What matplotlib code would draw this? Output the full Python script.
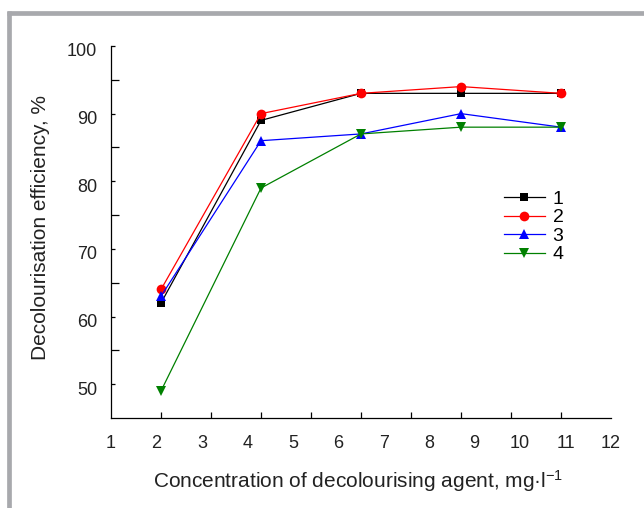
import numpy as np
import matplotlib
matplotlib.use("Agg")
import matplotlib.pyplot as plt
from matplotlib.lines import Line2D
from matplotlib.transforms import ScaledTranslation

plt.rcParams['font.family'] = ['Liberation Sans', 'DejaVu Sans']
plt.rcParams['mathtext.fontset'] = 'custom'
plt.rcParams['mathtext.rm'] = 'Liberation Sans'
plt.rcParams['mathtext.it'] = 'Liberation Sans:italic'

# data
conc = [2.1, 4.3, 6.5, 8.7, 10.9]
eff_1 = [62, 89, 93, 93, 93]
eff_2 = [64, 90, 93, 94, 93]
eff_3 = [63, 86, 87, 90, 88]
eff_4 = [49, 79, 87, 88, 88]
series_names = ['1', '2', '3', '4']
x_labels = [str(i) for i in range(1, 13)]
y_ticks = [50, 60, 70, 80, 90, 100]

txt = '#222222'
fig = plt.figure(figsize=(6.44, 5.08), dpi=100)
ax = fig.add_axes([111/644, 1-418/508, 500/644, 372/508])

styles = [('black', 's', 5.5), ('red', 'o', 7), ('blue', '^', 7.5), ('green', 'v', 7.5)]
for ys, name, (c, m, ms) in zip([eff_1, eff_2, eff_3, eff_4], series_names, styles):
    ax.plot(conc, ys, color=c, lw=0.9, marker=m, markersize=ms, label=name,
            markeredgewidth=0)

ax.set_xlim(1, 12)
ax.set_ylim(45, 100)

# x: labels evenly at 1..12, tick marks at 11 even positions (as in original)
ax.set_xticks(range(1, 13))
ax.set_xticklabels(x_labels)
ax.set_xticks(np.linspace(1, 12, 11), minor=True)
ax.tick_params(axis='x', which='major', length=0, pad=12, labelsize=13, labelcolor=txt)
ax.tick_params(axis='x', which='minor', direction='in', length=4, width=0.9)

ax.set_yticks(y_ticks)
ax.set_yticks([55, 65, 75, 85, 95], minor=True)
ax.tick_params(axis='y', which='major', direction='in', length=3, width=0.9,
               pad=10, labelsize=13, labelcolor=txt)
ax.tick_params(axis='y', which='minor', direction='in', length=5.5, width=0.9)
off = ScaledTranslation(0, -4/100, fig.dpi_scale_trans)
for lab in ax.get_yticklabels():
    lab.set_transform(lab.get_transform() + off)

for s in ['top', 'right']:
    ax.spines[s].set_visible(False)
for s in ['left', 'bottom']:
    ax.spines[s].set_linewidth(0.9)

ax.set_ylabel('Decolourisation efficiency, %', fontsize=15, color=txt)
ax.yaxis.set_label_coords(-0.122, 0.513)
ax.set_xlabel('Concentration of decolourising agent, mg·l$^{-1}$', fontsize=15, color=txt)
ax.xaxis.set_label_coords(0.495, -0.135)

ax.legend(loc='center left', bbox_to_anchor=(0.786, 0.514), frameon=False,
          fontsize=14, handlelength=2.1, handletextpad=0.4, labelspacing=0.05,
          borderpad=0, borderaxespad=0)

# grey frame of the page
frame = '#a8a9ad'
fig.add_artist(Line2D([0.0105, 1], [1-12.5/508, 1-12.5/508], color=frame, lw=3.4,
                      transform=fig.transFigure, solid_capstyle='butt'))
fig.add_artist(Line2D([9/644, 9/644], [0, 1-10.5/508], color=frame, lw=3.4,
                      transform=fig.transFigure, solid_capstyle='butt'))

fig.savefig('out.png', dpi=100)
